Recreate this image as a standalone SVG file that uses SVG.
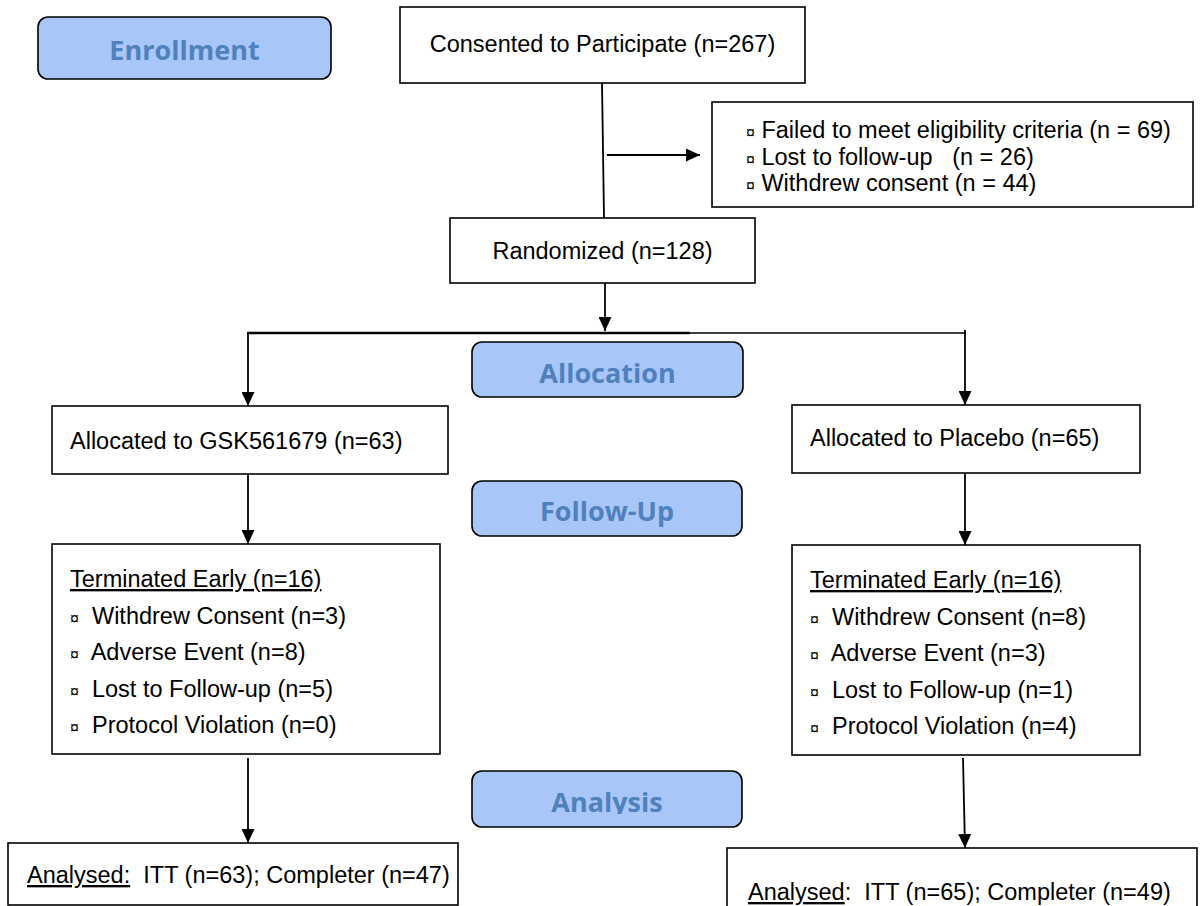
<svg xmlns="http://www.w3.org/2000/svg" width="1202" height="906" viewBox="0 0 1202 906">
<style>
.box{fill:#fff;stroke:#000;stroke-width:1.6}
.stage{fill:#a8c6f8;stroke:#000;stroke-width:1.6}
.st{font-family:"Open Sans","Noto Sans",sans-serif;font-weight:bold;font-size:27px;fill:#4f81bd;text-anchor:middle}
.t{font-family:"Liberation Sans",Arial,sans-serif;font-size:23.5px;fill:#000;white-space:pre}
.c{text-anchor:middle}
.b{font-size:16px}
.u{text-decoration:underline}
.ln{stroke:#000;stroke-width:1.8;fill:none}
</style>
<defs>
<marker id="ah" markerUnits="userSpaceOnUse" markerWidth="14" markerHeight="13" refX="14" refY="6.5" orient="auto">
<path d="M0,0 L14,6.5 L0,13 z" fill="#000"/>
</marker>
<clipPath id="clipA"><rect x="460" y="760" width="300" height="54"/></clipPath>
</defs>
<rect width="1202" height="906" fill="#fff"/>

<g id="enrollment">
<rect class="stage" x="38" y="17" width="293" height="62" rx="10"/>
<text class="st" x="184.5" y="60">Enrollment</text>
</g>

<g id="consented">
<rect class="box" x="400" y="7" width="405" height="76"/>
<text class="t c" x="602.5" y="52">Consented to Participate (n=267)</text>
</g>

<g id="excluded">
<rect class="box" x="712" y="102" width="481" height="105"/>
<text class="t" x="746" y="138"><tspan class="b">¤</tspan> Failed to meet eligibility criteria (n = 69)</text>
<text class="t" x="746" y="165"><tspan class="b">¤</tspan> Lost to follow-up   (n = 26)</text>
<text class="t" x="746" y="191"><tspan class="b">¤</tspan> Withdrew consent (n = 44)</text>
</g>

<g id="randomized">
<rect class="box" x="450" y="218" width="305" height="65"/>
<text class="t c" x="602.5" y="259">Randomized (n=128)</text>
</g>

<g id="allocation">
<rect class="stage" x="472" y="342" width="271" height="55" rx="10"/>
<text class="st" x="607.5" y="383">Allocation</text>
</g>

<g id="alloc-gsk">
<rect class="box" x="52" y="406" width="396" height="68"/>
<text class="t" x="70" y="449">Allocated to GSK561679 (n=63)</text>
</g>

<g id="alloc-placebo">
<rect class="box" x="792" y="405" width="348" height="68"/>
<text class="t" x="810" y="446">Allocated to Placebo (n=65)</text>
</g>

<g id="followup">
<rect class="stage" x="472" y="481" width="270" height="55" rx="10"/>
<text class="st" x="607" y="521">Follow-Up</text>
</g>

<g id="term-gsk">
<rect class="box" x="52" y="544" width="388" height="210"/>
<text class="t u" x="70" y="587">Terminated Early (n=16)</text>
<text class="t" x="70" y="623.5"><tspan class="b">¤</tspan>  Withdrew Consent (n=3)</text>
<text class="t" x="70" y="660"><tspan class="b">¤</tspan>  Adverse Event (n=8)</text>
<text class="t" x="70" y="696.5"><tspan class="b">¤</tspan>  Lost to Follow-up (n=5)</text>
<text class="t" x="70" y="733"><tspan class="b">¤</tspan>  Protocol Violation (n=0)</text>
</g>

<g id="term-placebo">
<rect class="box" x="792" y="545" width="348" height="210"/>
<text class="t u" x="810" y="588">Terminated Early (n=16)</text>
<text class="t" x="810" y="624.5"><tspan class="b">¤</tspan>  Withdrew Consent (n=8)</text>
<text class="t" x="810" y="661"><tspan class="b">¤</tspan>  Adverse Event (n=3)</text>
<text class="t" x="810" y="697.5"><tspan class="b">¤</tspan>  Lost to Follow-up (n=1)</text>
<text class="t" x="810" y="734"><tspan class="b">¤</tspan>  Protocol Violation (n=4)</text>
</g>

<g id="analysis">
<rect class="stage" x="472" y="771" width="270" height="56" rx="10"/>
<text class="st" x="607" y="812" clip-path="url(#clipA)">Analysis</text>
</g>

<g id="analysed-gsk">
<rect class="box" x="8" y="843" width="450" height="62"/>
<text class="t" x="27" y="883"><tspan class="u">Analysed:</tspan>  ITT (n=63); Completer (n=47)</text>
</g>

<g id="analysed-placebo">
<rect class="box" x="727" y="848" width="470" height="80"/>
<text class="t" x="748" y="900"><tspan class="u">Analysed</tspan>:  ITT (n=65); Completer (n=49)</text>
</g>

<g id="connectors">
<line class="ln" x1="602" y1="83" x2="604" y2="218"/>
<line class="ln" x1="607" y1="155" x2="700" y2="155" marker-end="url(#ah)"/>
<line class="ln" x1="605" y1="283" x2="605" y2="331" marker-end="url(#ah)"/>
<line x1="247" y1="333" x2="690" y2="333" stroke="#000" stroke-width="2.6"/>
<line x1="690" y1="333" x2="966" y2="333" stroke="#000" stroke-width="1.6"/>
<line class="ln" x1="248" y1="332" x2="248" y2="406" marker-end="url(#ah)"/>
<line class="ln" x1="965" y1="330" x2="965" y2="405" marker-end="url(#ah)"/>
<line class="ln" x1="248" y1="474" x2="248" y2="544" marker-end="url(#ah)"/>
<line class="ln" x1="965" y1="473" x2="965" y2="545" marker-end="url(#ah)"/>
<line class="ln" x1="248" y1="758" x2="248" y2="843" marker-end="url(#ah)"/>
<line class="ln" x1="963" y1="758" x2="965" y2="848" marker-end="url(#ah)"/>
</g>
</svg>
